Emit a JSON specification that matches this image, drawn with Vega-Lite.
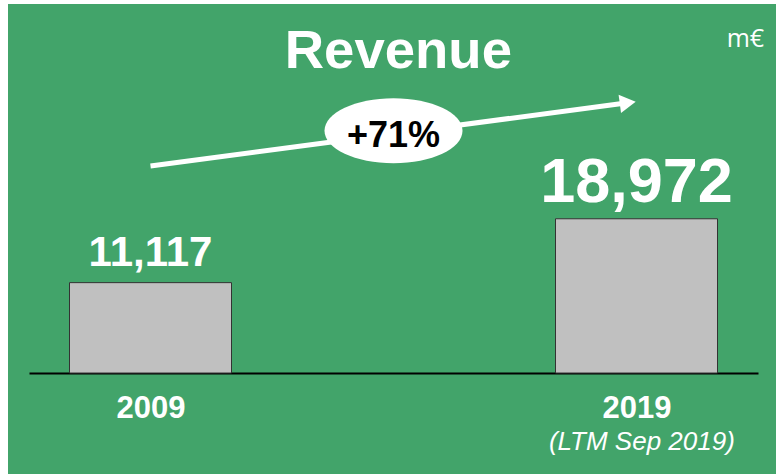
{
  "$schema": "https://vega.github.io/schema/vega-lite/v6.json",
  "width": 768,
  "height": 470,
  "autosize": "none",
  "padding": {"left": 8, "top": 4, "right": 0, "bottom": 0},
  "background": "#ffffff",
  "config": {"view": {"stroke": null, "fill": "#42A46A"}},
  "datasets": {
    "revenue": [
      {"year": 2009, "value": 11117, "label": "11,117"},
      {"year": 2019, "value": 18972, "label": "18,972"}
    ],
    "arrow": [
      {"year": 2009, "y": 25464},
      {"year": 2018.82, "y": 33238}
    ],
    "arrowhead": [{"year": 2018.82, "y": 33238}],
    "growth": [{"year": 2014.0, "y": 29794, "ty": 27801, "text": "+71%"}],
    "title": [{"year": 2014.1, "y": 37518, "text": "Revenue"}],
    "unit": [{"year": 2021.24, "y": 40101, "text": "m€"}],
    "note": [{"year": 2019.11, "y": -9468, "text": "(LTM Sep 2019)"}]
  },
  "encoding": {
    "x": {
      "field": "year",
      "type": "quantitative",
      "scale": {"domain": [2006.5, 2021.5], "range": [21, 750], "nice": false, "zero": false, "padding": 0},
      "axis": {
        "values": [2009, 2019],
        "format": "d",
        "title": null,
        "grid": false,
        "ticks": false,
        "tickSize": 0,
        "domain": true,
        "domainColor": "#000000",
        "domainWidth": 2,
        "offset": -101,
        "labelPadding": 44,
        "labelBaseline": "alphabetic",
        "labelFont": "Liberation Sans",
        "labelFontWeight": "bold",
        "labelFontSize": 31,
        "labelColor": "#ffffff",
        "labelFlush": false,
        "labelOverlap": false
      }
    },
    "y": {
      "field": "value",
      "type": "quantitative",
      "scale": {"domain": [-12420, 45390], "nice": false, "zero": false, "padding": 0},
      "axis": null
    }
  },
  "layer": [
    {
      "data": {"name": "revenue"},
      "mark": {"type": "bar", "width": 162, "fill": "#C0C0C0", "stroke": "#333333", "strokeWidth": 1},
      "encoding": {
        "y": {"field": "value", "type": "quantitative"}
      }
    },
    {
      "data": {"name": "revenue"},
      "mark": {"type": "text", "font": "Liberation Sans", "fontWeight": "bold", "color": "#ffffff", "baseline": "alphabetic", "align": "center", "dy": -17},
      "encoding": {
        "y": {"field": "value", "type": "quantitative"},
        "text": {"field": "label"},
        "size": {"condition": {"test": "datum.year == 2019", "value": 63}, "value": 42}
      }
    },
    {
      "data": {"name": "arrow"},
      "mark": {"type": "line", "color": "#ffffff", "strokeWidth": 5, "strokeCap": "butt"},
      "encoding": {
        "y": {"field": "y", "type": "quantitative"}
      }
    },
    {
      "data": {"name": "arrowhead"},
      "mark": {"type": "point", "shape": "triangle-right", "filled": true, "fill": "#ffffff", "opacity": 1, "size": 342, "angle": -7.54, "strokeWidth": 0},
      "encoding": {
        "y": {"field": "y", "type": "quantitative"}
      }
    },
    {
      "data": {"name": "growth"},
      "mark": {"type": "point", "shape": "M1,0C1,0.26,0.5523,0.471,0,0.471C-0.5523,0.471,-1,0.26,-1,0C-1,-0.26,-0.5523,-0.471,0,-0.471C0.5523,-0.471,1,-0.26,1,0Z", "filled": true, "fill": "#ffffff", "opacity": 1, "size": 19044, "strokeWidth": 0},
      "encoding": {
        "y": {"field": "y", "type": "quantitative"}
      }
    },
    {
      "data": {"name": "growth"},
      "mark": {"type": "text", "font": "Liberation Sans", "fontWeight": "bold", "fontSize": 36, "color": "#000000", "baseline": "alphabetic", "align": "center"},
      "encoding": {
        "y": {"field": "ty", "type": "quantitative"},
        "text": {"field": "text"}
      }
    },
    {
      "data": {"name": "title"},
      "mark": {"type": "text", "font": "Liberation Sans", "fontWeight": "bold", "fontSize": 54.5, "color": "#ffffff", "baseline": "alphabetic", "align": "center"},
      "encoding": {
        "y": {"field": "y", "type": "quantitative"},
        "text": {"field": "text"}
      }
    },
    {
      "data": {"name": "unit"},
      "mark": {"type": "text", "font": "Open Sans", "fontSize": 25, "color": "#ffffff", "baseline": "alphabetic", "align": "center"},
      "encoding": {
        "y": {"field": "y", "type": "quantitative"},
        "text": {"field": "text"}
      }
    },
    {
      "data": {"name": "note"},
      "mark": {"type": "text", "font": "Liberation Sans", "fontStyle": "italic", "fontSize": 26, "color": "#ffffff", "baseline": "alphabetic", "align": "center"},
      "encoding": {
        "y": {"field": "y", "type": "quantitative"},
        "text": {"field": "text"}
      }
    }
  ]
}
